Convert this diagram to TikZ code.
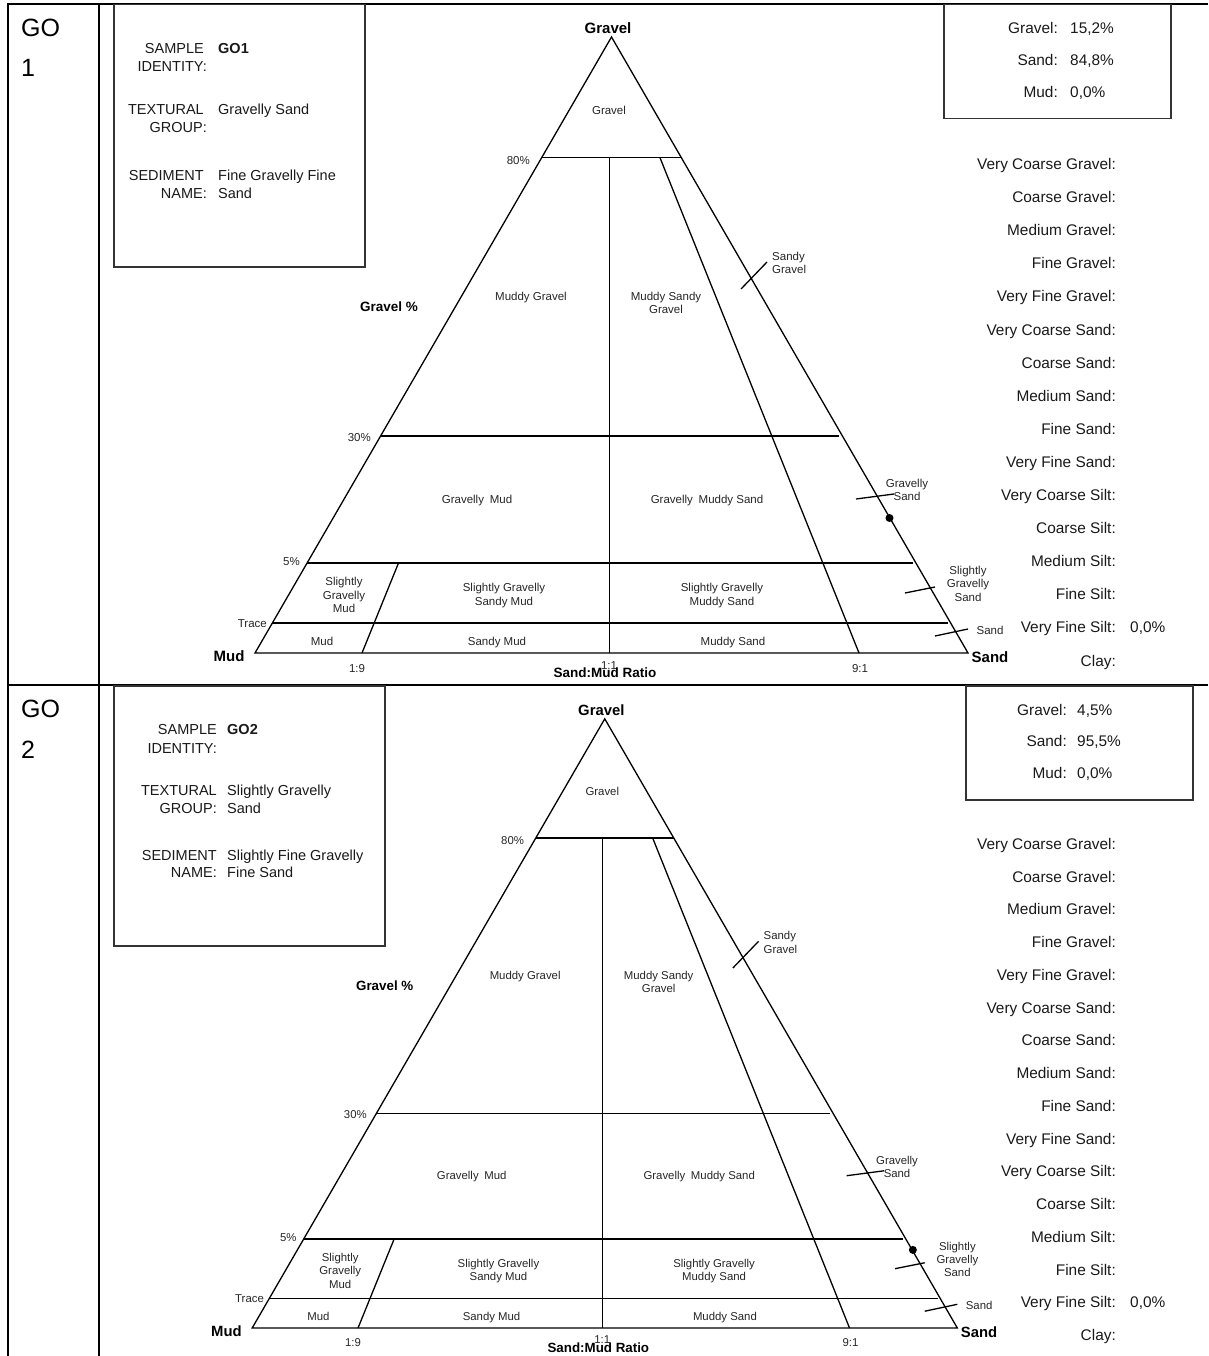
\documentclass[tikz,border=0pt]{standalone}
\usepackage{fontspec}
\setmainfont{Liberation Sans}
\begin{document}
\begin{tikzpicture}[x=1pt,y=-1pt,
  rule/.style={line width=2pt, black},
  frame/.style={line width=1.2pt, black!80},
  tri/.style={line width=1.3pt, black},
  tl/.style={font=\fontsize{11.5}{13.5}\selectfont, text=black!85, inner sep=0pt, text height=8.2pt, text depth=0pt},
  tm/.style={font=\fontsize{11.5}{13.5}\selectfont, text=black!85, inner sep=0pt, align=center},
  corner/.style={font=\fontsize{15}{18}\bfseries\selectfont, inner sep=0pt, text height=10.7pt, text depth=0pt},
  axis/.style={font=\fontsize{13.5}{16}\bfseries\selectfont, inner sep=0pt, text height=9.7pt, text depth=0pt},
  info/.style={font=\fontsize{14.5}{17}\selectfont, text=black!90, inner sep=0pt, text height=10.4pt, text depth=0pt},
  infob/.style={info, font=\fontsize{14.5}{17}\bfseries\selectfont},
  list/.style={font=\fontsize{15.4}{18}\selectfont, text=black!90, inner sep=0pt, text height=11pt, text depth=0pt},
  big/.style={font=\fontsize{25}{29}\selectfont, inner sep=0pt, text height=17.9pt, text depth=0pt},
  dot/.style={circle, fill=black, inner sep=0pt, minimum size=8pt},
  folk/.pic={
    % outline of the ternary diagram
    \coordinate (-apex) at (611.5,37);
    \coordinate (-mud) at (255,653);
    \coordinate (-sand) at (968,653);
    \draw[tri] (-apex) -- (-sand) -- (-mud) -- cycle;
    % gravel-percentage boundaries
    \draw[tri] (541.7,157.5) -- (681.3,157.5);
    \draw[tri] (380.6,436) -- (839,436);
    \draw[tri] (307.1,563) -- (913,563);
    \draw[tri] (272.4,623) -- (948,623);
    % sand:mud ratio boundaries
    \draw[tri] (609.5,157.5) -- (609.5,653);
    \draw[tri] (398.5,563) -- (362,653);
    \draw[tri] (659.9,157.5) -- (859,653);
    % leaders for the narrow fields on the sand side
    \draw[tri] (741,289) -- (767,262);
    \draw[tri] (856,499) -- (894,494);
    \draw[tri] (905,593) -- (935,587);
    \draw[tri] (935,636) -- (968,629);
    % field names and scale labels
    \node[corner] (-tG) at (608,28) {Gravel};
    \node[tl] (-fG) at (609,110) {Gravel};
    \node[tl, anchor=east] (-p80) at (530,160) {80\%};
    \node[tl] (-fMG) at (531,296) {Muddy Gravel};
    \node[tm] (-fMSG) at (666,303) {Muddy Sandy\\Gravel};
    \node[tm, anchor=west, align=left] (-fSG) at (772,263) {Sandy\\Gravel};
    \node[axis] (-gp) at (389,307) {Gravel \%};
    \node[tl, anchor=east] (-p30) at (371,437) {30\%};
    \node[tl] (-fGM) at (477,499) {Gravelly\enspace Mud};
    \node[tl] (-fGMS) at (707,499) {Gravelly\enspace Muddy Sand};
    \node[tm] (-fGS) at (907,490) {Gravelly\\Sand};
    \node[tl, anchor=east] (-p5) at (300,561) {5\%};
    \node[tm] (-fsGM) at (344,595) {Slightly\\Gravelly\\Mud};
    \node[tm] (-fsGSM) at (504,595.5) {Slightly Gravelly\\Sandy Mud};
    \node[tm] (-fsGMS) at (722,595.5) {Slightly Gravelly\\Muddy Sand};
    \node[tm] (-fsGS) at (968,583.5) {Slightly\\Gravelly\\Sand};
    \node[tl, anchor=east] (-ptr) at (267,623) {Trace};
    \node[tl] (-fM) at (322,641) {Mud};
    \node[tl] (-fSM) at (497,641) {Sandy Mud};
    \node[tl] (-fMS) at (733,641) {Muddy Sand};
    \node[tl] (-fS) at (990,630) {Sand};
    \node[corner] (-tM) at (229,656) {Mud};
    \node[corner] (-tS) at (990,657) {Sand};
    \node[tl] (-r19) at (357,668) {1:9};
    \node[tl] (-r11) at (609,665) {1:1};
    \node[tl] (-r91) at (860,668) {9:1};
    \node[axis] (-ratio) at (605,673) {Sand:Mud Ratio};
  }
]
\useasboundingbox (0,0) rectangle (1208,1356);

% table rules
\draw[rule] (8,1356) -- (8,4.5) -- (1208,4.5);
\draw[rule] (8,685.3) -- (1208,685.3);
\draw[rule] (99.3,4.5) -- (99.3,1356);

% ---------- sample GO1 ----------
\node[big, anchor=west] (g1a) at (21,28) {GO};
\node[big, anchor=west] (g1b) at (21,68) {1};

\draw[frame] (114,4.5) rectangle (365,267);
\node[info, anchor=east] (s1l1) at (204,48) {SAMPLE};
\node[info, anchor=east] (s1l2) at (207,66) {IDENTITY:};
\node[infob, anchor=west] (s1v1) at (218,48) {GO1};
\node[info, anchor=east] (s1l3) at (204,109) {TEXTURAL};
\node[info, anchor=east] (s1l4) at (207,127) {GROUP:};
\node[info, anchor=west] (s1v3) at (218,109) {Gravelly Sand};
\node[info, anchor=east] (s1l5) at (204,175) {SEDIMENT};
\node[info, anchor=east] (s1l6) at (207,193) {NAME:};
\node[info, anchor=west] (s1v5) at (218,175) {Fine Gravelly Fine};
\node[info, anchor=west] (s1v6) at (218,193) {Sand};

\draw[frame] (944,4.5) rectangle (1171,118.5);
\node[list, anchor=east] (c1g) at (1058,28) {Gravel:};
\node[list, anchor=west] (c1gv) at (1070,28) {15,2\%};
\node[list, anchor=east] (c1s) at (1058,60) {Sand:};
\node[list, anchor=west] (c1sv) at (1070,60) {84,8\%};
\node[list, anchor=east] (c1m) at (1058,92) {Mud:};
\node[list, anchor=west] (c1mv) at (1070,92) {0,0\%};

\foreach \t [count=\i] in {Very Coarse Gravel:, Coarse Gravel:, Medium Gravel:, Fine Gravel:, Very Fine Gravel:, Very Coarse Sand:, Coarse Sand:, Medium Sand:, Fine Sand:, Very Fine Sand:, Very Coarse Silt:, Coarse Silt:, Medium Silt:, Fine Silt:, Very Fine Silt:, Clay:}
  \node[list, anchor=east] (k1-\i) at (1116,{164+33.1*(\i-1)}) {\t};
\node[list, anchor=west] (k1v) at (1130,{164+33.1*14}) {0,0\%};

\pic (p1) at (0,0) {folk};
\node[dot] (p1pt) at (889.5,518) {};

% ---------- sample GO2 ----------
\node[big, anchor=west] (g2a) at (21,709) {GO};
\node[big, anchor=west] (g2b) at (21,749.5) {2};

\draw[frame] (114,686) rectangle (385,946);
\node[info, anchor=east] (s2l1) at (217,729) {SAMPLE};
\node[info, anchor=east] (s2l2) at (217,748) {IDENTITY:};
\node[infob, anchor=west] (s2v1) at (227,729) {GO2};
\node[info, anchor=east] (s2l3) at (217,790) {TEXTURAL};
\node[info, anchor=east] (s2l4) at (217,808) {GROUP:};
\node[info, anchor=west] (s2v3) at (227,790) {Slightly Gravelly};
\node[info, anchor=west] (s2v4) at (227,808) {Sand};
\node[info, anchor=east] (s2l5) at (217,855) {SEDIMENT};
\node[info, anchor=east] (s2l6) at (217,872) {NAME:};
\node[info, anchor=west] (s2v5) at (227,855) {Slightly Fine Gravelly};
\node[info, anchor=west] (s2v6) at (227,872) {Fine Sand};

\draw[frame] (966,686) rectangle (1193,800);
\node[list, anchor=east] (c2g) at (1067,710) {Gravel:};
\node[list, anchor=west] (c2gv) at (1077,710) {4,5\%};
\node[list, anchor=east] (c2s) at (1067,741) {Sand:};
\node[list, anchor=west] (c2sv) at (1077,741) {95,5\%};
\node[list, anchor=east] (c2m) at (1067,773) {Mud:};
\node[list, anchor=west] (c2mv) at (1077,773) {0,0\%};

\foreach \t [count=\i] in {Very Coarse Gravel:, Coarse Gravel:, Medium Gravel:, Fine Gravel:, Very Fine Gravel:, Very Coarse Sand:, Coarse Sand:, Medium Sand:, Fine Sand:, Very Fine Sand:, Very Coarse Silt:, Coarse Silt:, Medium Silt:, Fine Silt:, Very Fine Silt:, Clay:}
  \node[list, anchor=east] (k2-\i) at (1116,{844+32.73*(\i-1)}) {\t};
\node[list, anchor=west] (k2v) at (1130,{844+32.73*14}) {0,0\%};

\begin{scope}[shift={(0,682.2)}, scale=0.989]
  \pic[transform shape] (p2) at (0,0) {folk};
  \node[dot] (p2pt) at (923,574) {};
\end{scope}

\end{tikzpicture}
\end{document}
